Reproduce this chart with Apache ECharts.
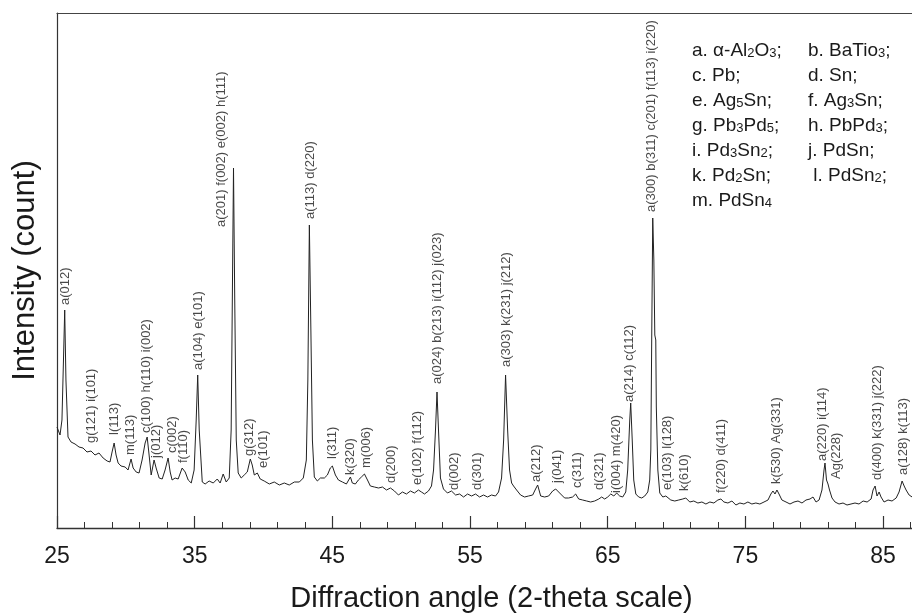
<!DOCTYPE html>
<html><head><meta charset="utf-8">
<script src="https://cdn.jsdelivr.net/npm/echarts@6/dist/echarts.min.js"></script>
<style>html,body{margin:0;padding:0;background:#fff}#c{width:912px;height:613px}</style>
</head><body><div id="c"></div>
<script>
// XRD pattern, [2-theta (deg), intensity (count, arbitrary)]
const scan25to35 = [[25.00,101],[25.22,93],[25.36,108],[25.47,168],[25.56,218],[25.65,148],[25.80,91],[26.02,86],[26.31,84],[26.60,81],[26.89,80],[27.18,76],[27.47,77],[27.76,73],[28.05,75],[28.35,70],[28.64,67],[28.85,66],[29.00,76],[29.15,85],[29.29,73],[29.44,65],[29.65,62],[29.95,61],[30.16,58],[30.38,69],[30.53,60],[30.75,56],[30.96,55],[31.18,68],[31.40,85],[31.55,91],[31.69,73],[31.84,53],[32.05,68],[32.20,60],[32.42,50],[32.64,49],[32.85,58],[33.07,70],[33.22,56],[33.36,48],[33.58,50],[33.80,49],[34.09,60],[34.31,56],[34.53,48],[34.75,45],[34.96,58]];
const scan35to45 = [[35.11,108],[35.22,153],[35.33,98],[35.55,46],[35.76,44],[36.05,47],[36.35,45],[36.64,49],[36.85,45],[37.07,54],[37.29,46],[37.51,50],[37.65,98],[37.76,268],[37.82,360],[37.91,228],[38.02,88],[38.16,55],[38.38,50],[38.60,53],[38.82,56],[39.04,69],[39.18,63],[39.33,53],[39.55,55],[39.76,49],[40.05,47],[40.42,44],[40.78,46],[41.15,43],[41.51,45],[41.87,43],[42.24,46],[42.60,46],[42.89,50],[43.11,68],[43.22,148],[43.33,303],[43.44,198],[43.55,88],[43.69,51],[43.91,47],[44.13,50],[44.42,50],[44.64,53],[44.85,60]];
const scan45to55 = [[45.00,62],[45.22,53],[45.44,48],[45.73,46],[46.02,44],[46.31,51],[46.45,45],[46.67,44],[46.89,48],[47.11,51],[47.33,54],[47.55,48],[47.76,42],[48.05,41],[48.35,40],[48.64,41],[48.93,38],[49.22,40],[49.51,37],[49.80,33],[50.09,36],[50.38,34],[50.67,37],[50.96,35],[51.25,38],[51.47,36],[51.69,34],[51.98,37],[52.20,42],[52.35,58],[52.49,98],[52.60,136],[52.71,98],[52.85,50],[53.07,39],[53.36,35],[53.65,37],[53.95,33],[54.24,34],[54.53,31],[54.82,34]];
const scan55to65 = [[55.11,32],[55.40,34],[55.69,31],[55.98,33],[56.27,31],[56.56,33],[56.85,32],[57.07,36],[57.29,50],[57.44,88],[57.58,153],[57.73,98],[57.87,58],[58.02,45],[58.16,42],[58.38,38],[58.67,33],[58.96,31],[59.25,32],[59.55,33],[59.76,39],[59.91,43],[60.13,32],[60.42,31],[60.71,32],[61.00,37],[61.22,39],[61.36,41],[61.58,34],[61.87,30],[62.16,30],[62.45,31],[62.67,34],[62.89,29],[63.18,28],[63.47,27],[63.76,26],[64.05,27],[64.35,29],[64.56,31],[64.78,29]];
const scan65to75 = [[65.00,31],[65.22,34],[65.44,32],[65.65,35],[65.87,32],[66.09,31],[66.31,36],[66.45,58],[66.60,108],[66.67,125],[66.78,88],[66.89,48],[67.04,34],[67.25,31],[67.47,30],[67.69,32],[67.91,36],[68.05,48],[68.13,78],[68.20,198],[68.27,310],[68.35,268],[68.42,193],[68.49,188],[68.53,121],[68.64,58],[68.78,35],[69.00,31],[69.22,32],[69.36,34],[69.58,28],[69.87,27],[70.16,28],[70.45,29],[70.67,30],[70.96,26],[71.25,27],[71.55,25],[71.84,26],[72.13,24],[72.42,26],[72.71,25],[73.00,28],[73.22,29],[73.44,26],[73.73,25],[74.02,27],[74.31,23],[74.60,25],[74.89,24]];
const scan75to87 = [[75.18,26],[75.47,24],[75.76,25],[76.05,24],[76.35,26],[76.64,28],[76.85,34],[77.00,37],[77.15,34],[77.29,38],[77.44,34],[77.65,28],[77.95,26],[78.24,24],[78.53,26],[78.82,27],[79.11,25],[79.40,28],[79.69,29],[79.91,31],[80.13,26],[80.35,28],[80.56,38],[80.71,58],[80.78,65],[80.89,48],[81.00,44],[81.11,38],[81.29,30],[81.51,26],[81.80,24],[82.09,25],[82.38,23],[82.67,24],[82.96,25],[83.25,24],[83.55,27],[83.84,26],[84.13,29],[84.27,38],[84.42,42],[84.56,32],[84.71,36],[84.85,31],[85.07,26],[85.36,28],[85.65,27],[85.95,30],[86.16,36],[86.38,47],[86.53,42],[86.67,38],[86.89,33],[87.11,31]];

// Peak annotations: text, 2-theta, intensity where the label starts
const peakText = ["a(012)","g(121) i(101)","l(113)","m(113)","c(100) h(110) i(002)","j(012)","c(002)","f(110)","a(104) e(101)","a(201) f(002) e(002) h(111)","g(312)","e(101)","a(113) d(220)","l(311)","k(320)","m(006)","d(200)","e(102) f(112)","a(024) b(213) i(112) j(023)","d(002)","d(301)","a(303) k(231) j(212)","a(212)","j(041)","c(311)","d(321)","i(004) m(420)","a(214) c(112)","a(300) b(311) c(201) f(113) i(220)","e(103) l(128)","k(610)","f(220) d(411)","k(530) Ag(331)","a(220) i(114)","Ag(228)","d(400) k(331) j(222)","a(128) k(113)"];
const peakAngle = [25.58,27.47,29.15,30.31,31.47,32.20,33.36,34.16,35.25,36.93,38.96,39.98,43.40,45.00,46.31,47.47,49.29,51.18,52.64,53.87,55.55,57.65,59.84,61.36,62.82,64.42,65.65,66.60,68.20,69.36,70.60,73.29,77.22,80.56,81.58,84.56,86.45];
const peakLabelHeight = [223,85,93,73,95,70,75,65,158,301,72,60,309,69,53,60,45,43,144,38,38,161,46,45,40,38,35,126,316,38,37,35,44,67,49,48,53];

// Phase key
const phaseKeyLeft = [["a. α-Al","2","O","3",";"],["c. Pb;"],["e. Ag","5","Sn;"],["g. Pb","3","Pd","5",";"],["i. Pd","3","Sn","2",";"],["k. Pd","2","Sn;"],["m. PdSn","4"]];
const phaseKeyRight = [["b. BaTio","3",";"],["d. Sn;"],["f. Ag","3","Sn;"],["h. PbPd","3",";"],["j. PdSn;"],[" l. PdSn","2",";"]];

const majorTicks = [25,35,45,55,65,75,85];
const minorTicks = [27,29,31,33,37,39,41,43,47,49,51,53,57,59,61,63,67,69,71,73,77,79,81,83,87];

const FONT = '"Liberation Sans", Arial, sans-serif';
const INK = '#1a1a1a';

const scan = [].concat(scan25to35, scan35to45, scan45to55, scan55to65, scan65to75, scan75to87);
const labels = peakText.map((t, i) => ({ value: [peakAngle[i], peakLabelHeight[i]], name: t }));

function richLine(parts) {
  return parts.map((p, i) => (i % 2 === 0 ? '{n|' + p + '}' : '{s|' + p + '}')).join('');
}
const rich = {
  n: { fontSize: 19, fontFamily: FONT, fill: INK, lineHeight: 24, verticalAlign: 'bottom' },
  s: { fontSize: 13, fontFamily: FONT, fill: INK, lineHeight: 18, verticalAlign: 'bottom' }
};
const keyGraphics = [];
phaseKeyLeft.forEach((p, i) => keyGraphics.push({ type: 'text', left: 692, top: 41 + i * 25, style: { text: richLine(p), rich: rich, fill: INK } }));
phaseKeyRight.forEach((p, i) => keyGraphics.push({ type: 'text', left: 808, top: 41 + i * 25, style: { text: richLine(p), rich: rich, fill: INK } }));

const XMIN = 25, XMAX = 87.1;
const chart = echarts.init(document.getElementById('c'), null, { renderer: 'canvas' });
chart.setOption({
  animation: false,
  backgroundColor: '#fff',
  grid: { left: 57, right: 0, top: 13, bottom: 85, containLabel: false, outerBoundsMode: 'none' },
  xAxis: [
    {
      type: 'value', min: XMIN, max: XMAX, position: 'bottom',
      axisLine: { show: true, onZero: false, lineStyle: { color: '#333', width: 1.3 } },
      axisTick: { show: true, inside: true, length: 12, customValues: majorTicks, lineStyle: { color: '#333', width: 1.2 } },
      axisLabel: { show: true, customValues: majorTicks, fontSize: 23, fontFamily: FONT, color: INK, margin: 17 },
      splitLine: { show: false },
      name: 'Diffraction angle (2-theta scale)', nameLocation: 'middle', nameGap: 56,
      nameTextStyle: { fontSize: 29, fontFamily: FONT, color: INK, padding: [0, 0, 0, 14] }
    },
    {
      type: 'value', min: XMIN, max: XMAX, position: 'bottom',
      axisLine: { show: false },
      axisTick: { show: true, inside: true, length: 6, customValues: minorTicks, lineStyle: { color: '#333', width: 1 } },
      axisLabel: { show: false }, splitLine: { show: false }
    },
    {
      type: 'value', min: XMIN, max: XMAX, position: 'top',
      axisLine: { show: true, lineStyle: { color: '#444', width: 1.2 } },
      axisTick: { show: false }, axisLabel: { show: false }, splitLine: { show: false }
    }
  ],
  yAxis: {
    type: 'value', min: 0, max: 515,
    axisLine: { show: true, lineStyle: { color: '#333', width: 1.2 } },
    axisTick: { show: false }, axisLabel: { show: false }, splitLine: { show: false },
    name: 'Intensity (count)', nameLocation: 'middle', nameGap: 16,
    nameTextStyle: { fontSize: 31, fontFamily: FONT, color: INK }
  },
  series: [
    {
      type: 'line', xAxisIndex: 0, data: scan, showSymbol: false, symbol: 'none',
      lineStyle: { color: '#222', width: 1 }, silent: true
    },
    {
      type: 'scatter', xAxisIndex: 0, data: labels, symbolSize: 1,
      itemStyle: { color: 'rgba(0,0,0,0)' }, silent: true,
      label: {
        show: true, position: 'inside', rotate: 90, align: 'left', verticalAlign: 'middle',
        formatter: p => p.name, fontSize: 13, fontFamily: FONT, color: INK
      }
    }
  ],
  graphic: keyGraphics
});
</script></body></html>
